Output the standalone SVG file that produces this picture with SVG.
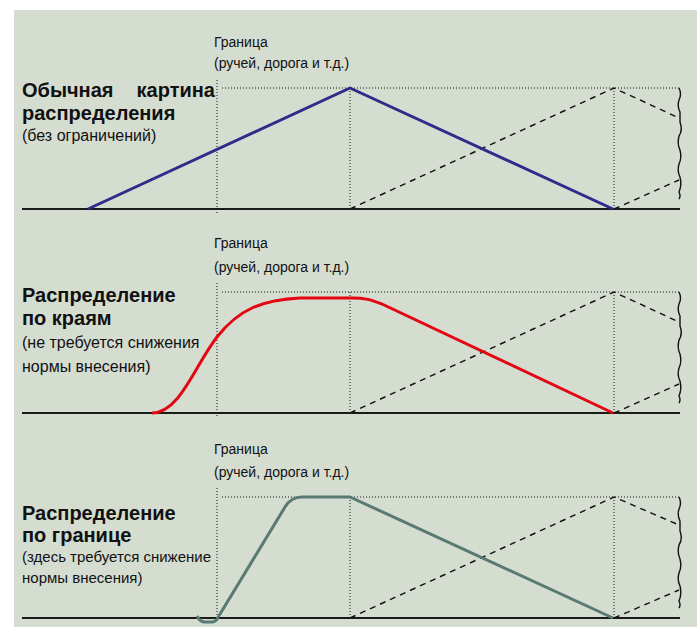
<svg xmlns="http://www.w3.org/2000/svg" width="697" height="627" viewBox="0 0 697 627">
<style>
text{font-family:"Liberation Sans",Arial,sans-serif;fill:#111}
.lbl{font-size:14px}
.ttl{font-size:20px;font-weight:bold}
.sub{font-size:16px}
.sub3{font-size:15px}
.base{stroke:#1a1a1a;stroke-width:2;fill:none}
.dot{stroke:#111;stroke-width:1;stroke-dasharray:1 2;fill:none}
.dash{stroke:#111;stroke-width:1.4;stroke-dasharray:6 5;fill:none}
.wave{stroke:#111;stroke-width:1.4;fill:none}
.c1{stroke:#33298a;stroke-width:3;fill:none;stroke-linejoin:round}
.c2{stroke:#e30613;stroke-width:3;fill:none;stroke-linejoin:round}
.c3{stroke:#587a72;stroke-width:3;fill:none;stroke-linejoin:round}
</style>
<rect x="14" y="10" width="683" height="617" fill="#d5ddd1"/>

<g id="panel1">
  <text class="lbl" x="214" y="47">Граница</text>
  <text class="lbl" x="214" y="68">(ручей, дорога и т.д.)</text>
  <text class="ttl" x="22" y="97">Обычная</text>
  <text class="ttl" x="215" y="97" text-anchor="end">картина</text>
  <text class="ttl" x="22" y="120">распределения</text>
  <text class="sub" x="22" y="141">(без ограничений)</text>
</g>
<g id="panel2">
  <text class="lbl" x="214" y="248">Граница</text>
  <text class="lbl" x="214" y="272">(ручей, дорога и т.д.)</text>
  <text class="ttl" x="22" y="302">Распределение</text>
  <text class="ttl" x="22" y="325">по краям</text>
  <text class="sub" x="22" y="348">(не требуется снижения</text>
  <text class="sub" x="22" y="372">нормы внесения)</text>
</g>
<g id="panel3">
  <text class="lbl" x="214" y="454">Граница</text>
  <text class="lbl" x="214" y="477">(ручей, дорога и т.д.)</text>
  <text class="ttl" x="22" y="520">Распределение</text>
  <text class="ttl" x="22" y="542">по границе</text>
  <text class="sub3" x="22" y="562">(здесь требуется снижение</text>
  <text class="sub3" x="22" y="583">нормы внесения)</text>
</g>

<g id="connectors">
  <!-- panel 1 -->
  <path class="dot" d="M217,80V213M222,88H680M350,88V209M614,88V209"/>
  <path class="dash" d="M350,209L614,88L679,118M614,209L679,180"/>
  <path class="wave" d="M679,88q3,6 0,12q-2,6 1,12v10q3,8 -1,14q-2,8 1,14q2,8 -1,14q-2,7 1,13q2,8 -1,15q2,4 0,7"/>
  <path class="base" d="M22,209H680"/>
  <path class="c1" d="M88,209L350,88L613,209"/>
  <!-- panel 2 -->
  <path class="dot" d="M217,283V418M222,292H680M350,292V413M614,292V413"/>
  <path class="dash" d="M350,413L614,292L679,322M614,413L679,384"/>
  <path class="wave" d="M679,292q3,6 0,12q-2,6 1,12v10q3,8 -1,14q-2,8 1,14q2,8 -1,14q-2,7 1,13q2,8 -1,15q2,4 0,7"/>
  <path class="base" d="M22,413H680"/>
  <path class="c2" d="M152,413C180,413 195,365 217,337S262,300 300,298L352,298C366,298 371,300 382,304L613,413"/>
  <!-- panel 3 -->
  <path class="dot" d="M217,488V622M222,497H680M350,497V618M614,497V618"/>
  <path class="dash" d="M350,618L614,497L679,525M614,618L679,590"/>
  <path class="wave" d="M679,497q3,6 0,12q-2,6 1,12v10q3,8 -1,14q-2,8 1,14q2,8 -1,14q-2,7 1,13q2,8 -1,15q2,4 0,7"/>
  <path class="base" d="M22,618H680"/>
  <path class="c3" d="M197,616Q200,622 205,622L212,622Q215,622 217,619L285,507Q291,497 302,497L350,497L613,618"/>
</g>
</svg>
